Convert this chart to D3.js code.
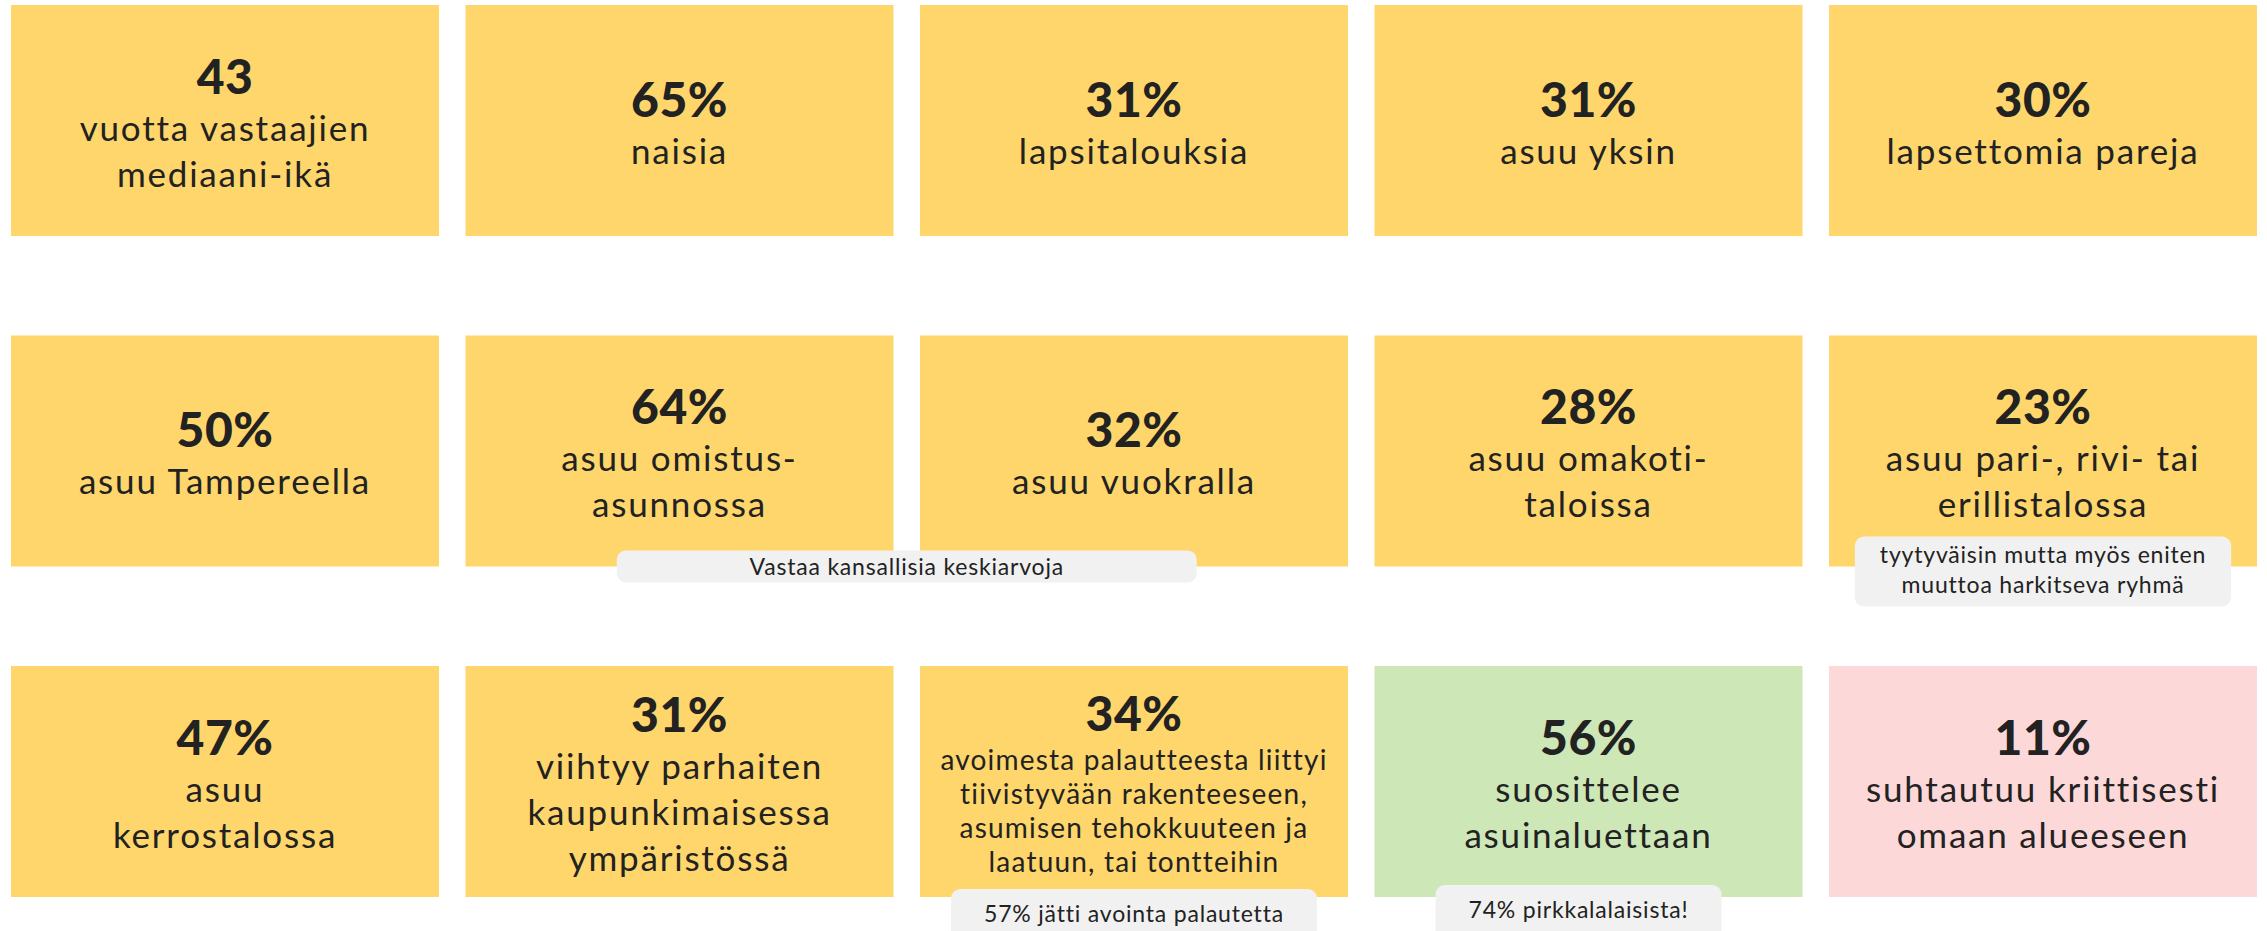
<!DOCTYPE html>
<meta charset="utf-8">
<script src="https://d3js.org/d3.v7.min.js"></script>
<style>
  body { margin: 0; background: #fff; }
  text { font-family: Lato, "Noto Sans", sans-serif; fill: #222; }
</style>
<div id="my_dataviz"></div>
<script>
// card values, in reading order (3 rows x 5 columns)
var values = ["43", "65%", "31%", "31%", "30%",
              "50%", "64%", "32%", "28%", "23%",
              "47%", "31%", "34%", "56%", "11%"];

var labels = [
  ["vuotta vastaajien", "mediaani-ikä"],
  ["naisia"],
  ["lapsitalouksia"],
  ["asuu yksin"],
  ["lapsettomia pareja"],
  ["asuu Tampereella"],
  ["asuu omistus-", "asunnossa"],
  ["asuu vuokralla"],
  ["asuu omakoti-", "taloissa"],
  ["asuu pari-, rivi- tai", "erillistalossa"],
  ["asuu", "kerrostalossa"],
  ["viihtyy parhaiten", "kaupunkimaisessa", "ympäristössä"],
  ["avoimesta palautteesta liittyi", "tiivistyvään rakenteeseen,", "asumisen tehokkuuteen ja", "laatuun, tai tontteihin"],
  ["suosittelee", "asuinaluettaan"],
  ["suhtautuu kriittisesti", "omaan alueeseen"]
];

var tones = ["neutral", "neutral", "neutral", "neutral", "neutral",
             "neutral", "neutral", "neutral", "neutral", "neutral",
             "neutral", "neutral", "neutral", "positive", "negative"];

// side notes: which card they hang from and their text
var noteCards = [6, 9, 12, 13];
var noteTexts = [
  ["Vastaa kansallisia keskiarvoja"],
  ["tyytyväisin mutta myös eniten", "muuttoa harkitseva ryhmä"],
  ["57% jätti avointa palautetta"],
  ["74% pirkkalalaisista!"]
];

var width = 2267, height = 931;
var cols = 5;

var svg = d3.select("#my_dataviz")
  .append("svg")
    .attr("width", width)
    .attr("height", height);

var x = d3.scaleBand()
    .domain(d3.range(cols))
    .range([11, 2257])
    .paddingInner(1 - 428 / 454.5);

var y = d3.scaleBand()
    .domain(d3.range(3))
    .range([5, 897])
    .paddingInner(1 - 231 / 330.5);

var fill = d3.scaleOrdinal()
    .domain(["neutral", "positive", "negative"])
    .range(["#fed66b", "#cde7b6", "#fcd8d9"]);

var cards = values.map(function(v, i) {
  return { value: v, label: labels[i], tone: tones[i], col: i % cols, row: Math.floor(i / cols) };
});

var card = svg.selectAll(".card")
  .data(cards)
  .enter().append("g")
    .attr("class", "card")
    .attr("transform", function(d) { return "translate(" + x(d.col) + "," + y(d.row) + ")"; });

card.append("rect")
    .attr("width", x.bandwidth())
    .attr("height", y.bandwidth())
    .attr("fill", function(d) { return fill(d.tone); });

// text block is vertically centred in the card
card.each(function(d) {
  var g = d3.select(this);
  var small = d.label.length > 3;
  var fs = small ? 28 : 35,
      lh = small ? 34 : 46,
      gap = small ? 39 : 47,
      cap = 35;
  var blockH = cap + gap + lh * (d.label.length - 1);
  var top = y.bandwidth() / 2 + 2 - blockH / 2;
  var cx = x.bandwidth() / 2;

  g.append("text")
    .attr("x", cx)
    .attr("y", top + cap)
    .attr("text-anchor", "middle")
    .style("font-size", "48px")
    .style("font-weight", 900)
    .style("letter-spacing", "0.5px")
    .text(d.value);

  g.append("text")
    .attr("text-anchor", "middle")
    .style("font-size", fs + "px")
    .style("letter-spacing", (small ? 1.2 : 1.8) + "px")
    .selectAll("tspan")
    .data(d.label)
    .enter().append("tspan")
      .attr("x", cx)
      .attr("y", function(t, j) { return top + cap + gap + j * lh; })
      .text(function(t) { return t; });
});

// notes on top of the cards
var noteShift = [-16, -30, -8, -12];
var notes = noteCards.map(function(c, i) {
  return { card: cards[c], lines: noteTexts[i], shift: noteShift[i] };
});

var note = svg.selectAll(".note")
  .data(notes)
  .enter().append("g")
    .attr("class", "note");

note.each(function(d, i) {
  var g = d3.select(this);
  var c = d.card;
  var bottom = y(c.row) + y.bandwidth();
  var lh = 30;
  var cx, w, h, base;
  if (i === 0) {
    // spans the gap between two cards
    cx = x(c.col) + x.step() - (x.step() - x.bandwidth()) / 2;
  } else {
    cx = x(c.col) + x.bandwidth() / 2 + (i === 3 ? -10 : 0);
  }
  var top = bottom + d.shift;
  if (d.lines.length > 1) { h = 70; base = 26; }
  else if (i === 0) { h = 32; base = 24; }
  else { h = 60; base = 33; }

  var t = g.append("text")
    .attr("text-anchor", "middle")
    .style("font-size", "23px")
    .style("letter-spacing", "0.8px");
  var spans = t.selectAll("tspan")
    .data(d.lines)
    .enter().append("tspan")
      .attr("x", cx)
      .attr("y", function(s, j) { return top + base + j * lh; })
      .text(function(s) { return s; });

  var tw = d3.max(spans.nodes(), function(n) { return n.getComputedTextLength(); });
  if (i === 0) w = x.bandwidth() * 1.355;
  else w = tw + (d.lines.length > 1 ? 50 : 66);

  g.insert("rect", "text")
    .attr("x", cx - w / 2)
    .attr("y", top)
    .attr("width", w)
    .attr("height", h)
    .attr("rx", 9)
    .attr("fill", "#f1f1f1");
});
</script>
